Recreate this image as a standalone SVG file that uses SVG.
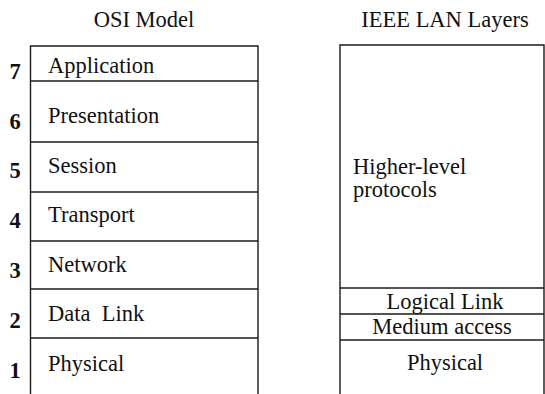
<svg xmlns="http://www.w3.org/2000/svg" width="545" height="394" viewBox="0 0 545 394">
  <style>
    .box { fill: none; stroke: #1a1a1a; stroke-width: 1.4; }
    .sep { stroke: #1a1a1a; stroke-width: 1.4; }
    text { font-family: 'Liberation Serif', 'DejaVu Serif', serif; font-size: 22.5px; fill: #111; }
    .title { text-anchor: middle; }
    .num { font-weight: bold; text-anchor: middle; }
    .c { text-anchor: middle; }
  </style>

  <!-- Column headings -->
  <text class="title" x="144" y="27">OSI Model</text>
  <text class="title" x="445" y="27">IEEE LAN Layers</text>

  <!-- OSI stack outline (open at the bottom) -->
  <g id="osi-frame">
    <path class="box" d="M30.5,394 V46 H258 V394"/>
  </g>

  <g id="osi-7">
    <text class="num" x="15" y="79">7</text>
    <text x="48" y="73">Application</text>
    <line class="sep" x1="30.5" y1="81" x2="258" y2="81"/>
  </g>
  <g id="osi-6">
    <text class="num" x="15" y="129">6</text>
    <text x="48" y="123">Presentation</text>
    <line class="sep" x1="30.5" y1="142" x2="258" y2="142"/>
  </g>
  <g id="osi-5">
    <text class="num" x="15" y="178">5</text>
    <text x="48" y="173">Session</text>
    <line class="sep" x1="30.5" y1="192" x2="258" y2="192"/>
  </g>
  <g id="osi-4">
    <text class="num" x="15" y="228">4</text>
    <text x="48" y="222">Transport</text>
    <line class="sep" x1="30.5" y1="241" x2="258" y2="241"/>
  </g>
  <g id="osi-3">
    <text class="num" x="15" y="278">3</text>
    <text x="48" y="272">Network</text>
    <line class="sep" x1="30.5" y1="289" x2="258" y2="289"/>
  </g>
  <g id="osi-2">
    <text class="num" x="15" y="328">2</text>
    <text x="48" y="321" xml:space="preserve">Data  Link</text>
    <line class="sep" x1="30.5" y1="338" x2="258" y2="338"/>
  </g>
  <g id="osi-1">
    <text class="num" x="15" y="378">1</text>
    <text x="48" y="371">Physical</text>
  </g>

  <!-- IEEE LAN stack outline (open at the bottom) -->
  <g id="lan-frame">
    <path class="box" d="M340,394 V45 H544 V394"/>
  </g>
  <g id="lan-higher">
    <text x="353" y="174">Higher-level</text>
    <text x="353" y="197">protocols</text>
    <line class="sep" x1="340" y1="288" x2="544" y2="288"/>
  </g>
  <g id="lan-llc">
    <text class="c" x="445" y="309">Logical Link</text>
    <line class="sep" x1="340" y1="314" x2="544" y2="314"/>
  </g>
  <g id="lan-mac">
    <text class="c" x="442" y="334">Medium access</text>
    <line class="sep" x1="340" y1="340" x2="544" y2="340"/>
  </g>
  <g id="lan-phy">
    <text class="c" x="445" y="370">Physical</text>
  </g>
</svg>
